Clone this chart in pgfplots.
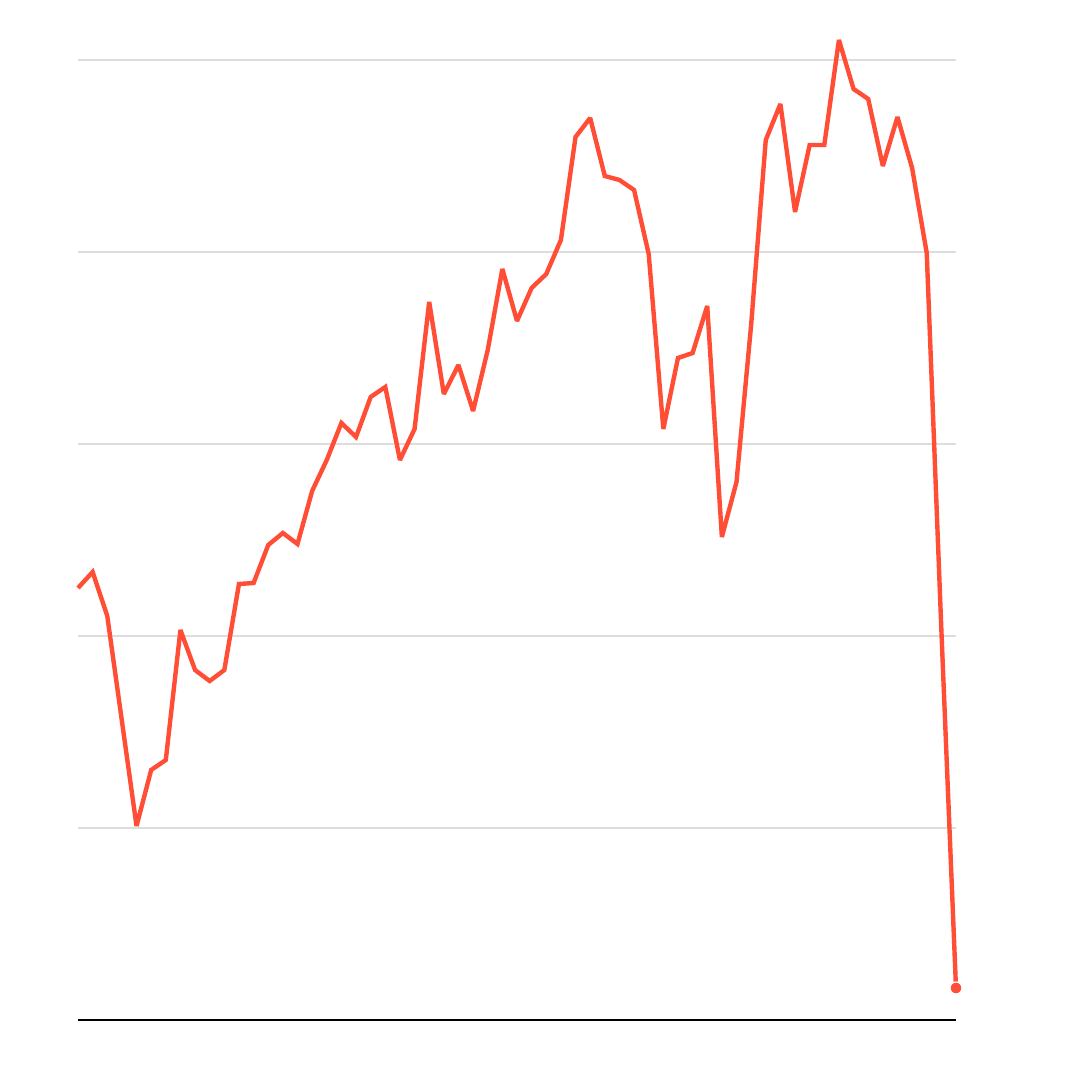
\documentclass[border=0pt]{standalone}
\usepackage{pgfplots}
\pgfplotsset{compat=1.18}
\definecolor{linecol}{HTML}{FF4D36}
\definecolor{gridcol}{HTML}{DDDDDD}
\begin{document}
\begin{tikzpicture}
\path[use as bounding box] (0,0) rectangle (270pt,270pt);
\begin{axis}[
  at={(19.5pt,15pt)}, anchor=south west,
  scale only axis, width=219.5pt, height=250pt,
  xmin=0, xmax=60, ymin=0, ymax=1000,
  axis line style={draw=none},
  tick style={draw=none},
  xtick=\empty,
  ytick={192,384,576,768,960},
  yticklabels={},
  ymajorgrids,
  grid style={gridcol, line width=0.45pt},
  clip=false,
]
\draw[black, line width=0.45pt] (axis cs:0,0) -- (axis cs:60,0);
\addplot[linecol, line width=1.1pt, no marks, line join=miter, miter limit=2] coordinates {
(0,432) (1,448) (2,404) (3,299) (4,194) (5,250) (6,260) (7,390) (8,350) (9,339)
(10,350) (11,436) (12,437) (13,475) (14,487) (15,476) (16,529) (17,560) (18,597) (19,583)
(20,623) (21,633) (22,560) (23,591) (24,718) (25,626) (26,655) (27,609) (28,670) (29,751)
(30,699) (31,732) (32,746) (33,780) (34,883) (35,902) (36,844) (37,840) (38,830) (39,766)
(40,591) (41,662) (42,667) (43,714) (44,483) (45,538) (46,695) (47,880) (48,916) (49,808)
(50,875) (51,875) (52,980) (53,931) (54,921) (55,854) (56,903) (57,852) (58,767) (59,390)
(60,32)
};
\addplot[only marks, mark=*, mark size=1.5pt, linecol, mark options={draw=white, line width=0.3pt, fill=linecol}] coordinates {(60,32)};
\end{axis}
\end{tikzpicture}
\end{document}
